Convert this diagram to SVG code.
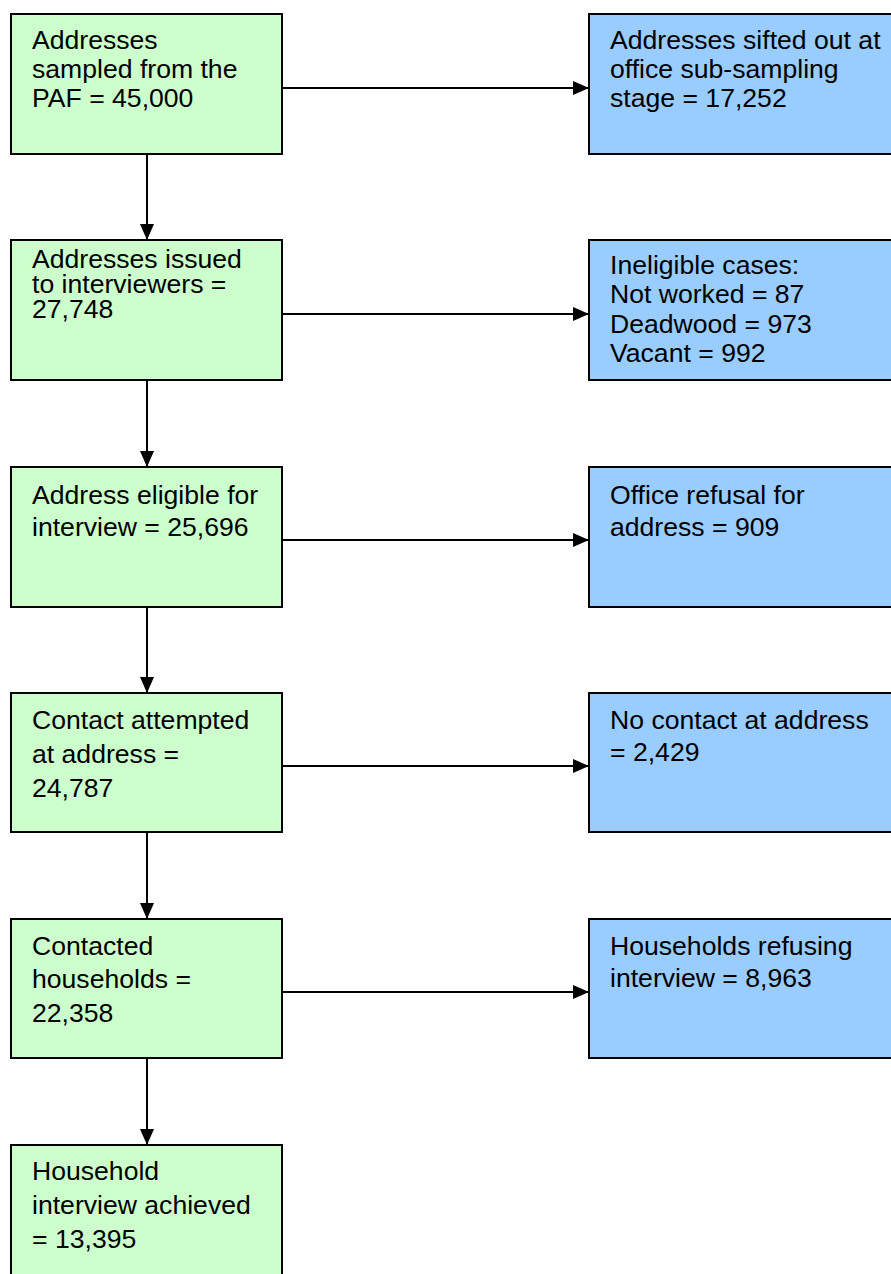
<svg xmlns="http://www.w3.org/2000/svg" width="891" height="1274" viewBox="0 0 891 1274">
<defs>
<marker id="ah" markerWidth="16" markerHeight="14" refX="16" refY="7" orient="auto" markerUnits="userSpaceOnUse">
<path d="M0,0 L16,7 L0,14 Z" fill="#000"/>
</marker>
<style>
.g{fill:#CCFFCC;stroke:#000;stroke-width:2}
.b{fill:#99CCFF;stroke:#000;stroke-width:2}
text{font-family:"Liberation Sans",Arial,sans-serif;font-size:26.6px;fill:#000}
.c{stroke:#000;stroke-width:2;fill:none}
</style>
</defs>
<rect width="891" height="1274" fill="#fff"/>
<g id="n1"><rect class="g" x="11" y="14" width="271" height="140"/>
<text x="32" y="49">Addresses</text><text x="32" y="78">sampled from the</text><text x="32" y="107">PAF = 45,000</text></g>
<g id="r1"><rect class="b" x="589" y="14" width="310" height="140"/>
<text x="610" y="49">Addresses sifted out at</text><text x="610" y="78">office sub-sampling</text><text x="610" y="107">stage = 17,252</text></g>
<g id="n2"><rect class="g" x="11" y="240" width="271" height="140"/>
<text x="32" y="268">Addresses issued</text><text x="32" y="293">to interviewers =</text><text x="32" y="318">27,748</text></g>
<g id="r2"><rect class="b" x="589" y="240" width="310" height="140"/>
<text x="610" y="274">Ineligible cases:</text><text x="610" y="303">Not worked = 87</text><text x="610" y="333">Deadwood = 973</text><text x="610" y="362">Vacant = 992</text></g>
<g id="n3"><rect class="g" x="11" y="467" width="271" height="140"/>
<text x="32" y="504">Address eligible for</text><text x="32" y="536">interview = 25,696</text></g>
<g id="r3"><rect class="b" x="589" y="467" width="310" height="140"/>
<text x="610" y="504">Office refusal for</text><text x="610" y="536">address = 909</text></g>
<g id="n4"><rect class="g" x="11" y="693" width="271" height="139"/>
<text x="32" y="729">Contact attempted</text><text x="32" y="763">at address =</text><text x="32" y="797">24,787</text></g>
<g id="r4"><rect class="b" x="589" y="693" width="310" height="139"/>
<text x="610" y="729">No contact at address</text><text x="610" y="761">= 2,429</text></g>
<g id="n5"><rect class="g" x="11" y="919" width="271" height="139"/>
<text x="32" y="955">Contacted</text><text x="32" y="988">households =</text><text x="32" y="1022">22,358</text></g>
<g id="r5"><rect class="b" x="589" y="919" width="310" height="139"/>
<text x="610" y="955">Households refusing</text><text x="610" y="987">interview = 8,963</text></g>
<g id="n6"><rect class="g" x="11" y="1145" width="271" height="140"/>
<text x="32" y="1180">Household</text><text x="32" y="1214">interview achieved</text><text x="32" y="1248">= 13,395</text></g>
<g id="connectors">
<line class="c" x1="282" y1="88" x2="589" y2="88" marker-end="url(#ah)"/>
<line class="c" x1="282" y1="314" x2="589" y2="314" marker-end="url(#ah)"/>
<line class="c" x1="282" y1="540" x2="589" y2="540" marker-end="url(#ah)"/>
<line class="c" x1="282" y1="766" x2="589" y2="766" marker-end="url(#ah)"/>
<line class="c" x1="282" y1="992" x2="589" y2="992" marker-end="url(#ah)"/>
<line class="c" x1="147" y1="154" x2="147" y2="240" marker-end="url(#ah)"/>
<line class="c" x1="147" y1="380" x2="147" y2="467" marker-end="url(#ah)"/>
<line class="c" x1="147" y1="607" x2="147" y2="693" marker-end="url(#ah)"/>
<line class="c" x1="147" y1="832" x2="147" y2="919" marker-end="url(#ah)"/>
<line class="c" x1="147" y1="1058" x2="147" y2="1145" marker-end="url(#ah)"/>
</g>
</svg>
